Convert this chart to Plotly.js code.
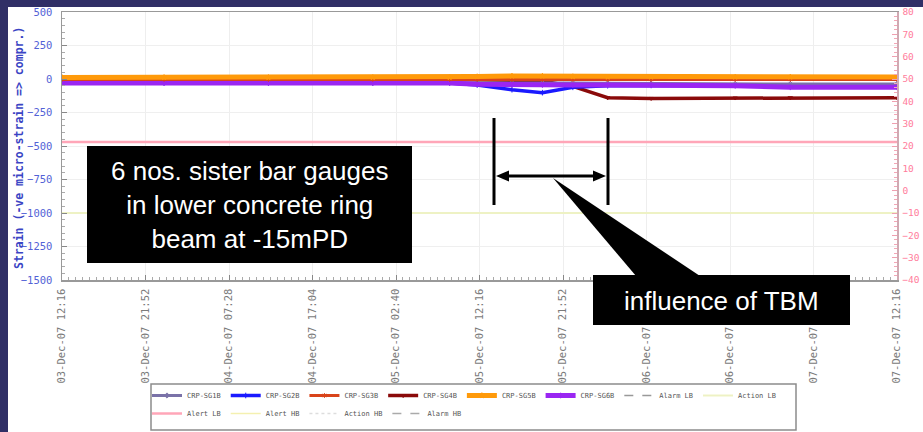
<!DOCTYPE html>
<html><head><meta charset="utf-8">
<script src="https://cdn.plot.ly/plotly-3.0.1.min.js"></script>
<style>
html,body{margin:0;padding:0;background:#302f66;width:923px;height:432px;overflow:hidden}
#sheet{position:absolute;left:8px;top:7px;width:915px;height:425px;background:#ffffff}
#chart{position:absolute;left:0;top:0;width:923px;height:432px}
</style></head><body>
<div id="sheet"></div><div id="chart"></div>
<script>
// ---- data ----
const times = ['2007-12-03 12:16','2007-12-04 00:00','2007-12-04 12:00','2007-12-05 00:00',
  '2007-12-05 08:50','2007-12-05 12:00','2007-12-05 16:00','2007-12-05 19:30','2007-12-05 23:00',
  '2007-12-06 03:00','2007-12-06 08:00','2007-12-06 17:40','2007-12-07 00:00','2007-12-07 12:16'];
const sg1b = [-25,-25,-25,-25,-25,-28,-30,-30,-30,-32,-34,-38,-38,-38];
const sg2b = [-30,-30,-30,-30,-30,-45,-80,-102,-62,-50,-48,-48,-48,-48];
const sg3b = [-3,-3,-3,-3,-3,-3,-3,-3,-3,-3,-3,-3,-3,-3];
const sg4b = [-3,-3,-3,-3,-3,-5,-10,-15,-55,-140,-145,-142,-140,-140];
const sg5b = [12,12,12,12,12,18,22,22,18,15,15,15,15,15];
const sg6b = [-30,-30,-30,-30,-30,-40,-45,-45,-45,-45,-45,-50,-62,-62];
const seriesNames = ['CRP-SG1B','CRP-SG2B','CRP-SG3B','CRP-SG4B','CRP-SG5B','CRP-SG6B'];
const limitNames = ['Alarm LB','Action LB','Alert LB','Alert HB','Action HB','Alarm HB'];
const limitValues = [-1600, -1000, -470, 800, 1000, 1500];
const tickTimes = ['2007-12-03 12:16','2007-12-03 21:52','2007-12-04 07:28','2007-12-04 17:04',
  '2007-12-05 02:40','2007-12-05 12:16','2007-12-05 21:52','2007-12-06 07:28','2007-12-06 17:04',
  '2007-12-07 02:40','2007-12-07 12:16'];
const tickLabels = ['03-Dec-07 12:16','03-Dec-07 21:52','04-Dec-07 07:28','04-Dec-07 17:04',
  '05-Dec-07 02:40','05-Dec-07 12:16','05-Dec-07 21:52','06-Dec-07 07:28','06-Dec-07 17:04',
  '07-Dec-07 02:40','07-Dec-07 12:16'];
const yTitle = 'Strain (-ve micro-strain => compr.)';
const note1 = '6 nos. sister bar gauges<br>in lower concrete ring<br>beam at -15mPD';
const note2 = 'influence of TBM';

// ---- layout helpers: page pixels -> paper coords ----
const L = 62, R = 897, T = 12, B = 280;
const PX = x => (x - L) / (R - L);
const PY = y => (B - y) / (B - T);
const mono = 'DejaVu Sans Mono, monospace';

function series(i, y, color, symbol, width, rank) {
  return {x: times, y: y, name: seriesNames[i], type: 'scatter', mode: 'lines+markers',
    line: {color: color, width: width},
    marker: {symbol: symbol, size: 4, color: color, line: {color: color, width: 1}},
    legend: 'legend', legendrank: rank, hoverinfo: 'skip'};
}
function limit(i, color, dash, width, leg, rank) {
  return {x: [tickTimes[0], tickTimes[tickTimes.length - 1]], y: [limitValues[i], limitValues[i]],
    name: limitNames[i], type: 'scatter', mode: 'lines',
    line: {color: color, width: width, dash: dash}, legend: leg, legendrank: rank, hoverinfo: 'skip'};
}

const traces = [
  limit(0, '#999999', 'dash', 1.5, 'legend', 7),
  limit(1, '#eef2c4', 'solid', 2, 'legend', 8),
  limit(2, '#ffa6b8', 'solid', 2.5, 'legend2', 9),
  limit(3, '#f4f0b0', 'solid', 1.5, 'legend2', 10),
  limit(4, '#dddddd', 'dot', 1.5, 'legend2', 11),
  limit(5, '#aaaaaa', 'dash', 1.5, 'legend2', 12),
  series(3, sg4b, '#8a0a0a', 'triangle-down', 3.5, 4),
  series(1, sg2b, '#1a1aff', 'cross-thin-open', 3.5, 2),
  series(0, sg1b, '#7a72a8', 'diamond-open', 3, 1),
  series(5, sg6b, '#9a26f2', 'cross-thin-open', 5, 6),
  series(2, sg3b, '#d9441a', 'asterisk-open', 3, 3),
  series(4, sg5b, '#ff9a0a', 'star', 5, 5),
  {x: [], y: [], yaxis: 'y2', type: 'scatter', showlegend: false, hoverinfo: 'skip'}
];

const shapes = [
  {type: 'rect', xref: 'paper', yref: 'paper', x0: PX(87), x1: PX(412), y0: PY(263), y1: PY(146),
   fillcolor: '#000', line: {width: 0}},
  {type: 'rect', xref: 'paper', yref: 'paper', x0: PX(593), x1: PX(850), y0: PY(325), y1: PY(275),
   fillcolor: '#000', line: {width: 0}},
  {type: 'path', xref: 'paper', yref: 'paper', fillcolor: '#000', line: {width: 0},
   path: `M ${PX(553)},${PY(178)} L ${PX(636)},${PY(276)} L ${PX(700)},${PY(276)} Z`},
  {type: 'line', xref: 'paper', yref: 'paper', x0: PX(494), x1: PX(494), y0: PY(118), y1: PY(205),
   line: {color: '#000', width: 3}},
  {type: 'line', xref: 'paper', yref: 'paper', x0: PX(608), x1: PX(608), y0: PY(118), y1: PY(205),
   line: {color: '#000', width: 3}},
  {type: 'line', xref: 'paper', yref: 'paper', x0: PX(505), x1: PX(597), y0: PY(176), y1: PY(176),
   line: {color: '#000', width: 3}},
  {type: 'path', xref: 'paper', yref: 'paper', fillcolor: '#000', line: {width: 0},
   path: `M ${PX(496)},${PY(176)} L ${PX(509)},${PY(170.5)} L ${PX(509)},${PY(181.5)} Z`},
  {type: 'path', xref: 'paper', yref: 'paper', fillcolor: '#000', line: {width: 0},
   path: `M ${PX(606)},${PY(176)} L ${PX(593)},${PY(170.5)} L ${PX(593)},${PY(181.5)} Z`},
  {type: 'rect', xref: 'paper', yref: 'paper', x0: PX(151), x1: PX(796), y0: PY(430), y1: PY(384),
   line: {color: '#8c8c8c', width: 1.5}, fillcolor: 'rgba(0,0,0,0)'}
];

const annotations = [
  {xref: 'paper', yref: 'paper', x: PX(249.5), y: PY(205), text: note1, showarrow: false,
   xanchor: 'center', yanchor: 'middle', align: 'center',
   font: {family: 'Liberation Sans, Arial, sans-serif', size: 26, color: '#ffffff'}},
  {xref: 'paper', yref: 'paper', x: PX(721.5), y: PY(301), text: note2, showarrow: false,
   xanchor: 'center', yanchor: 'middle',
   font: {family: 'Liberation Sans, Arial, sans-serif', size: 26, color: '#ffffff'}},
  {xref: 'paper', yref: 'paper', x: PX(19), y: PY(148), text: yTitle, showarrow: false,
   textangle: -90, xanchor: 'center', yanchor: 'middle',
   font: {family: mono, size: 11.5, color: '#3a44c4', weight: 'bold'}}
];

const layout = {
  width: 923, height: 432,
  margin: {l: L, r: 923 - R, t: T, b: 432 - B, pad: 0, autoexpand: false},
  paper_bgcolor: 'rgba(0,0,0,0)', plot_bgcolor: 'rgba(0,0,0,0)',
  showlegend: true,
  xaxis: {type: 'date', range: [tickTimes[0], tickTimes[tickTimes.length - 1]],
    tickmode: 'array', tickvals: tickTimes, ticktext: tickLabels, tickangle: -90,
    tickfont: {family: mono, size: 10.5, color: '#7a7a7a'}, ticks: 'inside', ticklen: 5,
    tickcolor: '#888', showline: true, linecolor: '#999', linewidth: 1.5, mirror: true,
    showgrid: true, gridcolor: '#eeeeee', zeroline: false, ticklabelstandoff: 3,
    minor: {ticks: 'inside', ticklen: 3, tickcolor: '#aaa', dtick: 2880000, tick0: tickTimes[0], showgrid: false}},
  yaxis: {range: [-1500, 500], dtick: 250, tick0: 0,
    tickfont: {family: mono, size: 10.5, color: '#5262d6'}, ticks: 'inside', ticklen: 5,
    tickcolor: '#888', showline: true, linecolor: '#999', linewidth: 1.5,
    showgrid: true, gridcolor: '#efefef', zeroline: false, ticklabelstandoff: 6,
    minor: {ticks: 'inside', ticklen: 3, dtick: 50, tickcolor: '#aaa', showgrid: false}},
  yaxis2: {overlaying: 'y', side: 'right', range: [-40, 80], dtick: 10, tick0: 0,
    tickfont: {family: mono, size: 9.5, color: '#ff7d9c'}, ticks: 'inside', ticklen: 5,
    tickcolor: '#f0a0b0', showline: true, linecolor: '#cfa9b2', linewidth: 1.5,
    showgrid: false, zeroline: false, ticklabelstandoff: 2,
    minor: {ticks: 'inside', ticklen: 3, dtick: 2, tickcolor: '#f4a6b6', showgrid: false}},
  legend: {orientation: 'h', x: PX(147), y: PY(381), xanchor: 'left', yanchor: 'top',
    font: {family: mono, size: 7, color: '#555'}, bgcolor: 'rgba(0,0,0,0)', borderwidth: 0,
    itemwidth: 30, traceorder: 'normal'},
  legend2: {orientation: 'h', x: PX(147), y: PY(399), xanchor: 'left', yanchor: 'top',
    font: {family: mono, size: 7, color: '#555'}, bgcolor: 'rgba(0,0,0,0)', borderwidth: 0,
    itemwidth: 30, traceorder: 'normal'},
  shapes: shapes,
  annotations: annotations
};

Plotly.newPlot('chart', traces, layout, {staticPlot: true, displayModeBar: false});
</script>
</body></html>
